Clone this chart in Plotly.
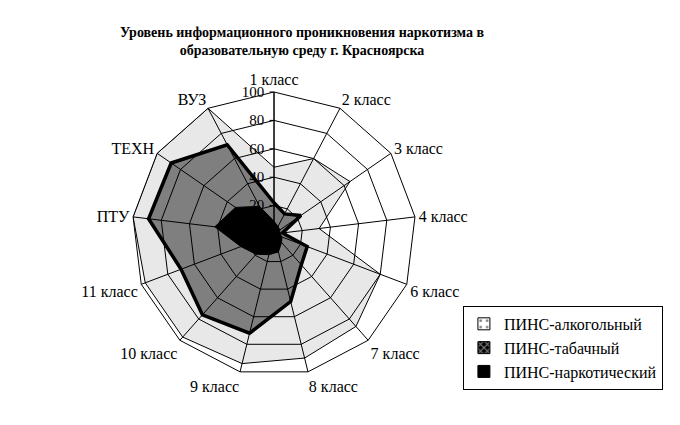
import plotly.graph_objects as go

categories = ["1 класс", "2 класс", "3 класс", "4 класс", "6 класс", "7 класс",
              "8 класс", "9 класс", "10 класс", "11 класс", "ПТУ", "ТЕХН", "ВУЗ"]
alcohol = [47, 60, 65, 32, 80, 87, 90, 94, 97, 97, 100, 100, 100]
tobacco = [22, 16, 23, 6, 25, 29, 49, 72, 76, 70, 89, 88, 71]
narcotic = [9, 6, 5, 4, 6, 8, 13, 15, 19, 25, 42, 33, 22]
series_names = ["ПИНС-алкогольный", "ПИНС-табачный", "ПИНС-наркотический"]
radial_ticks = [0, 20, 40, 60, 80, 100]

FONT = "Liberation Serif"


def closed(vals):
    return list(vals) + [vals[0]]


theta = closed(categories)

fig = go.Figure()

fills = ["rgba(0,0,0,0.09)", "rgba(0,0,0,0.45)", "black"]
widths = [1, 3.5, 1]
for name, vals, fc, w in zip(series_names, [alcohol, tobacco, narcotic], fills, widths):
    fig.add_trace(go.Scatterpolar(r=closed(vals), theta=theta, name=name,
                                  mode="lines", fill="toself", fillcolor=fc,
                                  line=dict(color="black", width=w),
                                  showlegend=False))

# legend keys (patterned squares, no data)
patterns = [dict(shape=".", size=8, solidity=0.15, fgcolor="black", bgcolor="white"),
            dict(shape="x", size=6, solidity=0.4, fgcolor="white", bgcolor="black"),
            dict(shape="", fgcolor="black", bgcolor="black")]
key_colors = ["white", "black", "black"]
for name, pat, kc in zip(series_names, patterns, key_colors):
    fig.add_trace(go.Barpolar(r=[None], theta=[None], name=name,
                              marker=dict(color=kc, pattern=pat,
                                          line=dict(color="black", width=1))))

fig.update_layout(
    width=680, height=425,
    margin=dict(l=0, r=0, t=0, b=0),
    paper_bgcolor="white",
    font=dict(family=FONT, size=15, color="black"),
    title=dict(text="<b>Уровень информационного проникновения наркотизма в<br>"
                    "образовательную среду г. Красноярска</b>",
               x=0.4324, xanchor="center", y=0.9318, yanchor="middle",
               font=dict(family=FONT, size=14, color="black")),
    polar=dict(
        domain=dict(x=[0.1824, 0.6], y=[0.1341, 0.8024]),
        bgcolor="white",
        gridshape="linear",
        angularaxis=dict(rotation=90, direction="clockwise",
                         linecolor="black", linewidth=1,
                         gridcolor="black", gridwidth=1,
                         showline=True, ticks="",
                         tickfont=dict(family=FONT, size=16, color="black"),
                         layer="above traces"),
        radialaxis=dict(range=[0, 100], tickvals=radial_ticks,
                        angle=90, tickangle=90, side="counterclockwise",
                        showline=True, linecolor="black", linewidth=1,
                        gridcolor="black", gridwidth=1,
                        ticks="outside", ticklen=4, tickcolor="black",
                        tickfont=dict(family=FONT, size=15, color="black"),
                        layer="above traces"),
    ),
    legend=dict(x=0.669, y=0.299, xanchor="left", yanchor="top",
                bordercolor="black", borderwidth=1, bgcolor="white",
                font=dict(family=FONT, size=16, color="black"),
                itemwidth=30, tracegroupgap=0),
    showlegend=True,
)

fig.write_html("out.html")
